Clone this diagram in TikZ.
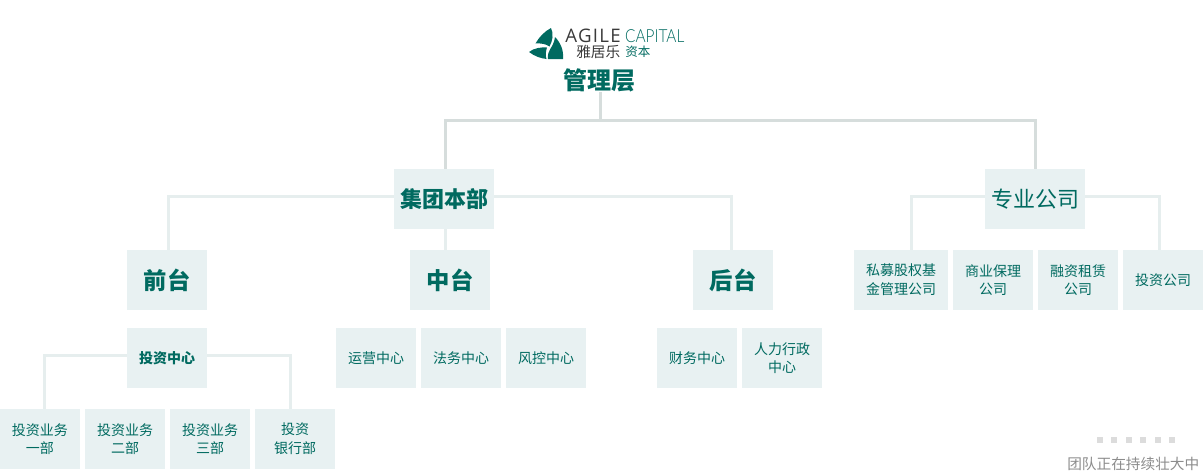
\documentclass[tikz,border=0pt]{standalone}
\usepackage{fontspec}
\setmainfont{Noto Sans CJK SC}
\newfontfamily\latinfont{Open Sans}
\newfontfamily\capfont{Lato Light}
\definecolor{tealtext}{HTML}{006A60}
\definecolor{boxfill}{HTML}{E8F1F2}
\definecolor{topline}{HTML}{D6DDDC}
\definecolor{subline}{HTML}{E6EEEE}
\definecolor{logodark}{HTML}{3A3A3A}
\definecolor{moregray}{HTML}{8C8C8C}
\definecolor{dotgray}{HTML}{DCDCDC}
\begin{document}
\begin{tikzpicture}[x=0.75pt,y=-0.75pt]
\tikzstyle{unit} = [fill=boxfill, text=tealtext, inner sep=0pt, align=center, minimum height=45pt, minimum width=60pt, font=\fontsize{10.5}{14}\selectfont] % small box
\tikzstyle{stage} = [unit, font=\fontsize{17.5}{20}\selectfont\bfseries] % front, middle, back
\tikzstyle{branch} = [unit, minimum width=75pt, font=\fontsize{16.5}{20}\selectfont] % two big boxes
\tikzstyle{mainline} = [draw=topline, line width=2.25pt]
\tikzstyle{subl} = [draw=subline, line width=2.25pt]
\tikzstyle{moredot} = [fill=dotgray, inner sep=0pt, minimum size=4.5pt]
\tikzstyle{logotext} = [inner sep=0pt, anchor=west]
\useasboundingbox (0,0) rectangle (1203,472);

% connectors come first, boxes lie on them
\coordinate (topjoin) at (600,120);
\coordinate (hqleft) at (394,196);
\coordinate (hqright) at (494,196);
\coordinate (specleft) at (985,196);
\coordinate (specright) at (1085,196);
\coordinate (investleft) at (127,355);
\coordinate (investright) at (207,355);
\coordinate (backtop) at (731,250);
\coordinate (banktop) at (290,409);
\coordinate (pvttop) at (911,250);
\coordinate (firsttop) at (44,409);
\coordinate (fronttop) at (168,250);
\coordinate (midtop) at (445,250);
\coordinate (hqtop) at (445,169);
\coordinate (hqbottom) at (445,229);
\coordinate (spectop) at (1035,169);
\coordinate (lasttop) at (1159,250);
\coordinate (mgmtbottom) at (600,92);

\draw[mainline] (mgmtbottom) -- (topjoin);
\draw[mainline] (hqtop) |- (topjoin) -| (spectop);
\draw[subl] (fronttop) |- (hqleft);
\draw[subl] (backtop) |- (hqright);
\draw[subl] (hqbottom) -- (midtop);
\draw[subl] (pvttop) |- (specleft);
\draw[subl] (lasttop) |- (specright);
\draw[subl] (firsttop) |- (investleft);
\draw[subl] (banktop) |- (investright);

% logo
\fill[tealtext] (551,28) .. controls (545,31) and (539,37) .. (535.5,43.5) .. controls (541,43) and (546,44) .. (549.5,46.5) .. controls (552.5,41) and (554,34) .. (551,28) -- cycle;
\fill[tealtext] (529,52) .. controls (534,48) and (541,47) .. (547,47.5) .. controls (545.5,52) and (545.5,56) .. (546.5,59) .. controls (541,58.5) and (534,56) .. (529,52) -- cycle;
\fill[tealtext] (555,37) .. controls (560,42) and (564,50) .. (563,59) .. controls (558,59) and (552,59.5) .. (548,59) .. controls (547.5,55) and (548.5,51.5) .. (550.5,48.5) .. controls (553,45) and (554.5,41) .. (555,37) -- cycle;
\node[logotext, text=logodark, font=\latinfont\fontsize{14}{16}\selectfont\addfontfeatures{LetterSpace=7}] (agile) at (565,36) {AGILE};
\node[logotext, text=tealtext, font=\capfont\fontsize{13.5}{16}\selectfont, xscale=0.855, transform shape] (capital) at (625,36) {CAPITAL};
\node[logotext, text=logodark, font=\fontsize{11}{12}\selectfont] (yajule) at (576,52) {雅居乐};
\node[logotext, text=tealtext, font=\fontsize{9.4}{10}\selectfont] (ziben) at (625,52) {资本};

\node[inner sep=0pt, text=tealtext, font=\fontsize{18}{20}\selectfont\bfseries] (mgmt) at (599,80) {管理层};

\node[branch, font=\fontsize{16.5}{20}\selectfont\bfseries] (hq) at (444,199) {集团本部};
\node[branch] (spec) at (1035,199) {专业公司};

\node[stage] (front) at (167,280) {前台};
\node[stage] (middle) at (450,280) {中台};
\node[stage] (back) at (733,280) {后台};

\node[unit, minimum width=70.5pt] (pvt) at (901,280) {私募股权基\\金管理公司};
\node[unit] (factor) at (993,280) {商业保理\\公司};
\node[unit] (lease) at (1078,280) {融资租赁\\公司};
\node[unit] (invco) at (1163,280) {投资公司};

\node[unit, font=\fontsize{10.5}{12}\selectfont\bfseries] (invest) at (167,358) {投资中心};
\node[unit] (ops) at (376,358) {运营中心};
\node[unit] (legal) at (461,358) {法务中心};
\node[unit] (risk) at (546,358) {风控中心};
\node[unit] (fin) at (697,358) {财务中心};
\node[unit] (hr) at (782,358) {人力行政\\中心};

\node[unit] (biz1) at (40,439) {投资业务\\一部};
\node[unit] (biz2) at (125,439) {投资业务\\二部};
\node[unit] (biz3) at (210,439) {投资业务\\三部};
\node[unit] (bank) at (295,439) {投资\\银行部};

% growing dots
\foreach \i in {0,...,5}
    \node[moredot] (dot\i) at (1100+\i*14.4,440) {};
\node[inner sep=0pt, anchor=west, text=moregray, font=\fontsize{11}{13}\selectfont] (growing) at (1067,464) {团队正在持续壮大中};
\end{tikzpicture}
\end{document}
